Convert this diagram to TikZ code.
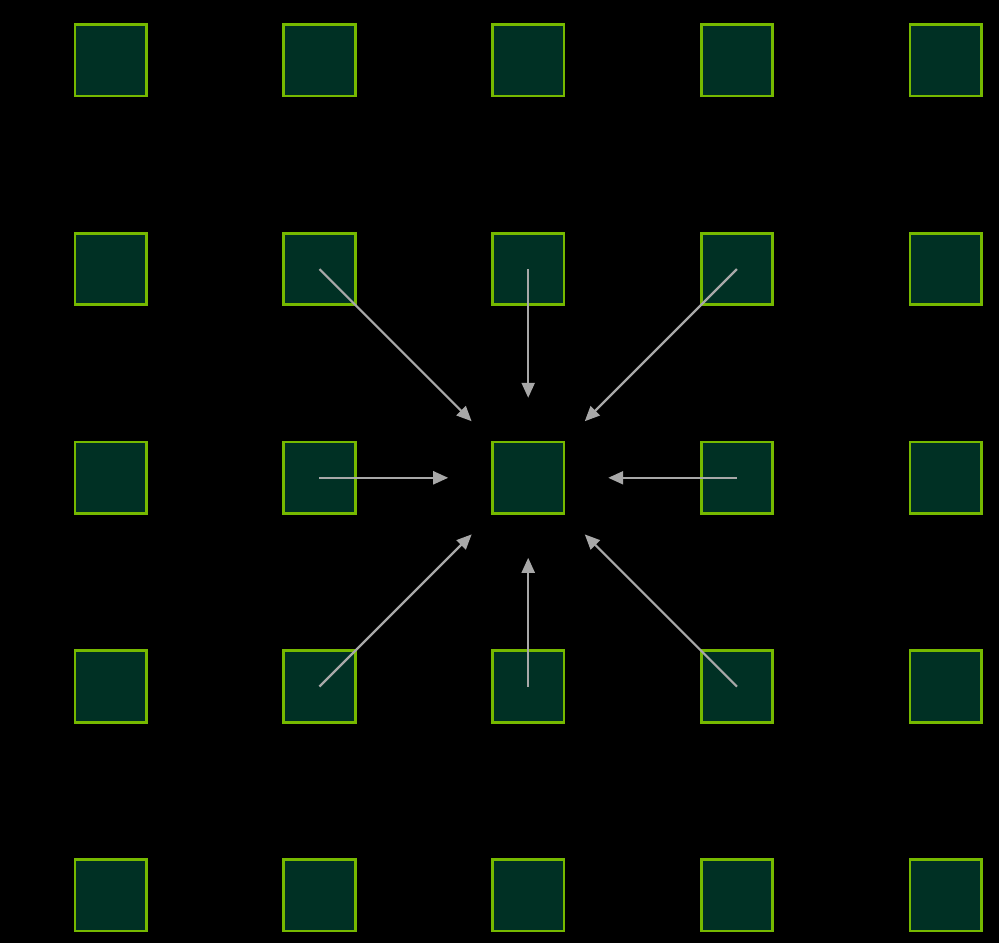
\documentclass[tikz,border=0pt]{standalone}
\usetikzlibrary{arrows.meta}
\definecolor{boxfill}{HTML}{003024}
\definecolor{boxline}{HTML}{76B900}
\definecolor{arrowgray}{HTML}{A8A8A8}
\begin{document}
\begin{tikzpicture}[x=1pt,y=-1pt,
  cell/.style={draw=boxline,fill=boxfill,line width=2.8pt,minimum size=71.5pt,inner sep=0pt},
  flow/.style={draw=arrowgray,line width=2.2pt,-{Triangle[length=15pt,width=13pt]},shorten >=80pt}]
\fill[black] (0,0) rectangle (999,943);
\useasboundingbox (0,0) rectangle (999,943);
\foreach \i in {0,...,4}{
  \foreach \j in {0,...,4}{
    \node[cell] (n-\i-\j) at ({110.7+208.75*\i},{60.3+208.75*\j}) {};
  }
}
\foreach \a/\b in {1/1,2/1,3/1,1/2,3/2,1/3,2/3,3/3}{
  \draw[flow] (n-\a-\b.center) -- (n-2-2.center);
}
\end{tikzpicture}
\end{document}
